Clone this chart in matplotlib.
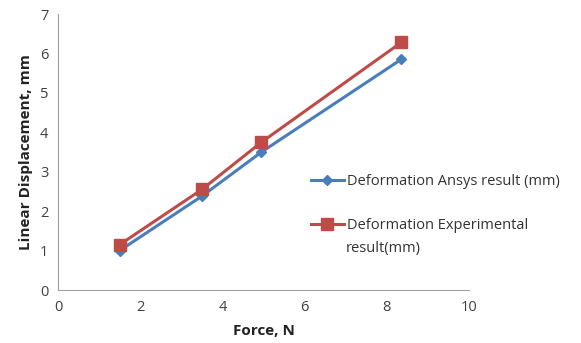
import matplotlib
matplotlib.use("Agg")
import matplotlib.pyplot as plt
from matplotlib.lines import Line2D

# values
force = [1.5, 3.5, 4.95, 8.35]
ansys = [1.0, 2.38, 3.5, 5.85]
experimental = [1.15, 2.55, 3.75, 6.28]

plt.rcParams['font.family'] = ['Open Sans', 'DejaVu Sans']

fig = plt.figure(figsize=(5.81, 3.43), dpi=100)
ax = fig.add_axes([0.0998, 0.1545, 0.7075, 0.8045])

blue = "#4a7ebb"
red = "#be4b48"
ax.plot(force, ansys, color=blue, lw=2.2, marker="D", ms=5.5)
ax.plot(force, experimental, color=red, lw=2.2, marker="s", ms=8)

ax.set_xlim(0, 10)
ax.set_ylim(0, 7)
ax.set_xticks(range(0, 11, 2))
ax.set_yticks(range(0, 8))
for s in ["top", "right"]:
    ax.spines[s].set_visible(False)
for s in ["left", "bottom"]:
    ax.spines[s].set_color("#a0a0a0")
ax.tick_params(length=0, labelsize=10.5, colors="#404040", pad=7)
ax.set_xlabel("Force, N", fontsize=11, fontweight="bold", color="#222222", labelpad=7)
ax.set_ylabel("Linear Displacement, mm", fontsize=11, fontweight="bold", color="#222222", labelpad=5)

# legend: handle sits beside the first line of the label, like the reference
handles = [Line2D([], [], color=blue, lw=2.2, marker="D", ms=5.5),
           Line2D([], [], color=red, lw=2.2, marker="s", ms=8)]
labels = ["Deformation Ansys result (mm)", "Deformation Experimental"]
fig.legend(handles, labels, loc="upper left", bbox_to_anchor=(0.512, 0.53),
           bbox_transform=fig.transFigure, frameon=False, fontsize=10.5,
           handlelength=2.3, handletextpad=0.2, labelspacing=1.95, labelcolor="#333333")
fig.text(0.595, 0.275, "result(mm)", fontsize=10.5, color="#333333", va="center")

fig.savefig("out.png", dpi=100)
